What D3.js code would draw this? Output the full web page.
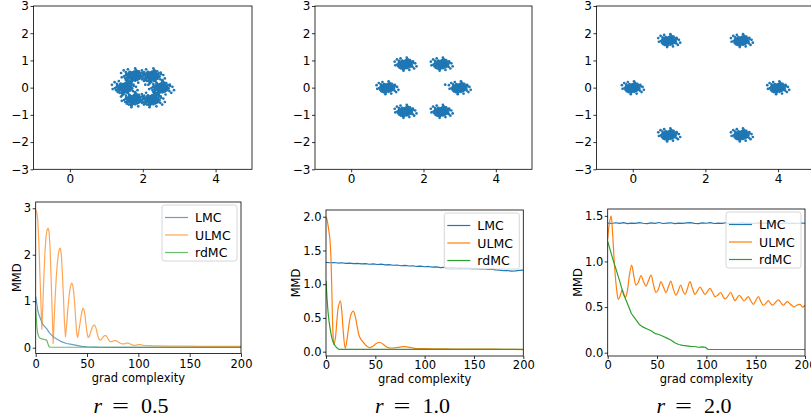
<!DOCTYPE html>
<html><head><meta charset="utf-8">
<script src="https://cdn.jsdelivr.net/npm/d3@7"></script>
<style>
body{margin:0;background:#fff}
svg{display:block}
</style>
</head><body>
<svg id="chart" width="811" height="419"></svg>
<script>
// ---------------- DATA ----------------
const radii = ["0.5", "1.0", "2.0"];
// mode centres of the target mixture in each panel
const clusterCenters = [
  [[2.5,0],[2.25,0.433],[1.75,0.433],[1.5,0],[1.75,-0.433],[2.25,-0.433]],
  [[3,0],[2.5,0.866],[1.5,0.866],[1,0],[1.5,-0.866],[2.5,-0.866]],
  [[4,0],[3,1.732],[1,1.732],[0,0],[1,-1.732],[3,-1.732]]
];
const clusterSpread = [0.105, 0.09, 0.09];
// typed sample offsets (in spread units) of the points round each mode
const blobOffsets = [
[0.1,0.3],[-0.4,0.2],[0.6,-0.1],[-0.2,-0.7],[0.9,0.4],[-1.1,-0.3],[0.3,1.0],[-0.6,0.8],[1.3,-0.5],[-0.8,-1.0],
[0.0,-0.2],[0.5,0.6],[-1.4,0.5],[1.0,1.1],[-0.3,-1.3],[0.7,-0.9],[-0.9,0.1],[0.2,-0.4],[1.6,0.2],[-1.7,-0.6],
[0.4,0.0],[-0.1,0.6],[0.8,-0.4],[-0.5,-0.4],[1.2,0.7],[-1.2,0.9],[0.1,1.5],[-0.2,-1.6],[0.6,1.3],[-0.7,-1.4],
[2.0,-0.3],[-2.1,0.2],[0.3,-1.1],[-0.4,1.2],[1.5,-1.0],[-1.5,-1.1],[0.9,-1.4],[-1.0,1.4],[1.8,0.9],[-1.9,0.7],
[0.2,0.2],[-0.3,0.0],[0.0,0.9],[0.5,-0.6],[-0.6,-0.1],[1.1,0.0],[-1.1,0.4],[0.7,0.3],[-0.8,0.5],[0.4,-1.7],
[2.4,0.6],[-2.5,-0.2],[0.6,2.0],[-0.5,-2.1],[1.4,1.6],[-1.3,-1.8],[2.2,-1.2],[-2.0,1.3],[0.1,-0.9],[-0.1,0.3],
[1.0,-0.2],[-1.0,-0.7],[0.3,0.7],[-0.4,-0.9],[1.7,-0.6],[-1.6,0.0],[0.8,0.9],[-0.9,-0.5],[0.0,-1.2],[0.2,1.2],
[3.0,0.3],[-3.1,-0.5],[0.4,2.6],[-0.6,-2.7],[2.7,-1.8],[-2.6,1.9],[1.3,0.3],[-1.3,-0.2],[0.5,0.4],[-0.5,0.5],
[1.9,-0.1],[-1.8,-1.5],[1.1,-1.2],[-1.2,1.1],[0.9,1.7],[-0.8,-1.9],[2.3,1.1],[-2.2,-0.9],[0.7,-0.2],[-0.7,0.2],
[3.4,-0.9],[-3.3,1.0],[1.2,-2.4],[-1.5,2.3],[0.0,0.0],[0.3,-0.3],[-0.2,0.8],[0.6,0.1],[-0.3,-0.5],[1.5,0.5]
];
const scatterExtras = [[[2.07,0.11]], [[2.6,0.11]], []];
const scatterXDomain = [-1, 5];
const scatterYDomain = [-3, 3];
const scatterXTicks = [0, 2, 4];
const scatterYTicks = [-3, -2, -1, 0, 1, 2, 3];

const seriesNames = ["LMC", "ULMC", "rdMC"];
const seriesColors = ["#1f77b4", "#ff7f0e", "#2ca02c"];
const mmdXDomain = [0, 200];
const mmdXTicks = [0, 50, 100, 150, 200];
const mmdYDomains = [[-0.125, 3.135], [-0.064, 2.1], [-0.036, 1.575]];
const mmdYTicks = [[0, 1, 2, 3], [0, 0.5, 1, 1.5, 2], [0, 0.5, 1, 1.5]];

// r = 0.5
const lmc05 = [[0,1.1],[1,0.95],[2,0.8],[3,0.72],[5,0.6],[7,0.5],[9,0.45],[11,0.4],[13,0.33],[15,0.28],[18,0.22],[21,0.18],[25,0.13],[30,0.09],[35,0.07],[40,0.05],[45,0.03],[50,0.02],[60,0.012],[80,0.008],[120,0.006],[160,0.005],[200,0.005]];
const ulmc05 = [[0,2.96],[1,2.92],[2,2.75],[3,2.3],[4,1.65],[5,1.0],[6,0.4],[7,0.95],[8,1.55],[9,2.05],[10,2.38],[11,2.53],[12,2.57],[13,2.5],[14,2.15],[15,1.5],[16,0.8],[17,0.09],[18,0.6],[19,1.1],[20,1.5],[21,1.8],[22,2.0],[23,2.12],[24,2.14],[25,2.0],[26,1.6],[27,1.1],[28,0.55],[29,0.24],[30,0.45],[31,0.75],[32,1.0],[33,1.2],[34,1.33],[35,1.39],[36,1.36],[37,1.2],[38,0.95],[39,0.6],[40,0.3],[41,0.22],[42,0.35],[43,0.5],[44,0.65],[45,0.78],[46,0.85],[47,0.82],[48,0.7],[49,0.5],[50,0.32],[51,0.22],[52,0.23],[53,0.3],[54,0.37],[55,0.43],[56,0.47],[57,0.49],[58,0.47],[59,0.4],[60,0.3],[61,0.22],[62,0.17],[63,0.16],[64,0.18],[65,0.21],[66,0.24],[67,0.26],[68,0.26],[69,0.25],[70,0.21],[71,0.17],[72,0.14],[73,0.13],[74,0.13],[75,0.14],[76,0.15],[78,0.15],[80,0.13],[82,0.1],[84,0.08],[86,0.08],[88,0.1],[90,0.1],[92,0.08],[94,0.06],[96,0.05],[98,0.055],[100,0.065],[102,0.065],[104,0.055],[106,0.05],[110,0.045],[115,0.04],[120,0.04],[130,0.035],[140,0.035],[150,0.032],[160,0.03],[170,0.03],[180,0.028],[190,0.028],[200,0.027]];
const rdmc05 = [[0,0.85],[1,0.48],[2,0.3],[3,0.24],[4,0.21],[6,0.19],[8,0.18],[10,0.17],[11,0.15],[12,0.08],[13,0.02],[14,0.01],[200,0.01]];

// r = 1.0  (LMC sampled every 4 gradient evaluations)
const lmc10 = [1.325,1.318,1.322,1.314,1.318,1.309,1.313,1.305,1.31,1.302,1.306,1.296,1.301,1.292,1.297,1.286,1.29,1.281,1.285,1.274,1.279,1.27,1.274,1.263,1.268,1.259,1.263,1.252,1.256,1.247,1.251,1.242,1.247,1.238,1.243,1.234,1.239,1.23,1.235,1.226,1.229,1.219,1.223,1.213,1.208,1.2,1.203,1.193,1.197,1.204,1.208];
const ulmc10 = [[0,2.0],[1,1.96],[2,1.88],[3,1.78],[4,1.66],[5,1.4],[6,0.85],[7,0.3],[8,0.1],[9.5,0.2],[11,0.45],[12.5,0.66],[14.5,0.755],[16,0.6],[17.5,0.3],[19.5,0.05],[21.5,0.2],[23.5,0.42],[25.5,0.56],[27.7,0.6],[30,0.5],[32,0.34],[34,0.22],[36.5,0.16],[39,0.12],[41.5,0.08],[44.3,0.06],[47.5,0.08],[51,0.12],[54.4,0.14],[58,0.11],[61.5,0.07],[65,0.055],[70,0.058],[75,0.068],[80,0.075],[85,0.065],[90,0.05],[100,0.045],[115,0.042],[130,0.04],[150,0.04],[170,0.038],[185,0.035],[200,0.03]];
const rdmc10 = [[0,1.05],[1,0.8],[2,0.6],[3,0.46],[4,0.36],[5,0.27],[6,0.2],[7,0.15],[8,0.12],[9,0.095],[10,0.075],[11,0.058],[12,0.045],[13,0.035],[200,0.035]];

// r = 2.0
const lmc20 = [1.421,1.416,1.424,1.418,1.425,1.415,1.421,1.417,1.426,1.419,1.414,1.422,1.418,1.427,1.416,1.42,1.424,1.415,1.421,1.417,1.423,1.426,1.418,1.414,1.422,1.419,1.425,1.416,1.421,1.418,1.424,1.415,1.421,1.419,1.426,1.417,1.42,1.414,1.423,1.418,1.421,1.416,1.425,1.419,1.415,1.422,1.418,1.421,1.416,1.42,1.419];
const ulmc20 = [[0,1.25],[1.5,1.4],[3.4,1.5],[5,1.3],[7,0.94],[9,0.7],[10.8,0.585],[12.5,0.62],[14.8,0.69],[16.5,0.64],[18.2,0.61],[20,0.68],[22,0.85],[24.3,0.96],[26.5,0.84],[28.7,0.74],[31,0.77],[33.8,0.845],[36.3,0.78],[38.8,0.73],[41,0.78],[43.9,0.85],[46.5,0.74],[49,0.66],[51.5,0.7],[54,0.78],[56.5,0.72],[59.1,0.66],[61.5,0.72],[63.9,0.785],[66.5,0.7],[69.2,0.63],[71.5,0.68],[74,0.74],[76.2,0.68],[78.4,0.64],[81,0.71],[83.4,0.78],[86,0.7],[88.5,0.64],[91,0.68],[93.6,0.72],[96,0.68],[98.6,0.64],[101,0.67],[103.7,0.705],[106.3,0.66],[108.8,0.615],[111.5,0.63],[114.5,0.66],[116.7,0.62],[118.9,0.59],[121.8,0.62],[124.7,0.66],[127,0.61],[129,0.57],[131.2,0.6],[133.4,0.63],[135.8,0.6],[138.2,0.567],[140.3,0.59],[142.5,0.615],[145,0.57],[147.6,0.53],[150,0.57],[152.7,0.615],[155.2,0.56],[157.7,0.52],[160.2,0.54],[162.8,0.57],[165,0.54],[167.3,0.52],[170,0.55],[173,0.58],[175.5,0.55],[178,0.52],[180,0.54],[182,0.56],[184.3,0.54],[186.5,0.52],[189,0.5],[191.5,0.52],[195,0.53],[197.5,0.5],[200,0.52]];
const rdmc20 = [[0,1.22],[4,1.07],[8,0.93],[12,0.79],[16,0.64],[20,0.54],[24,0.43],[28,0.37],[32,0.31],[36,0.28],[40,0.26],[44,0.24],[48,0.21],[52,0.2],[56,0.18],[60,0.16],[64,0.14],[68,0.11],[72,0.09],[76,0.08],[80,0.075],[84,0.07],[88,0.068],[92,0.06],[96,0.065],[99,0.06],[101,0.04],[103,0.035],[200,0.035]];
const lmcStep = 4;

// ---------------- LAYOUT ----------------
const FONT = "'DejaVu Sans', sans-serif";
const topFrames = [{l:33.5,r:252,t:6,b:169.3},{l:315,r:532,t:6,b:169.3},{l:596.4,r:814.4,t:6,b:169.3}];
const botFrames = [{l:35.7,r:241,t:202,b:353.5},{l:326,r:523.3,t:210,b:356},{l:607.7,r:805,t:209,b:356}];
const captionCenters = [131, 412.5, 694];
const lineAlpha = [0.7, 1, 1];

const svg = d3.select("#chart");
svg.append("rect").attr("width",811).attr("height",419).attr("fill","#fff");

function styleAxis(g, fs){
  g.select(".domain").remove();
  g.selectAll(".tick line").attr("stroke","#000").attr("stroke-width",0.8);
  g.selectAll(".tick text").attr("font-size",fs).attr("font-family",FONT).attr("fill","#000");
}
function frame(f){
  svg.append("rect").attr("x",f.l).attr("y",f.t).attr("width",f.r-f.l).attr("height",f.b-f.t)
    .attr("fill","none").attr("stroke","#000").attr("stroke-width",0.8);
}

const toPairs = arr => arr.map((v,i)=>[i*lmcStep, v]);
const panelSeries = [
  [lmc05, ulmc05, rdmc05],
  [toPairs(lmc10), ulmc10, rdmc10],
  [toPairs(lmc20), ulmc20, rdmc20]
];

for (let p=0; p<3; p++){
  // ---- scatter ----
  const tf = topFrames[p];
  const sx = d3.scaleLinear().domain(scatterXDomain).range([tf.l, tf.r]);
  const sy = d3.scaleLinear().domain(scatterYDomain).range([tf.b, tf.t]);
  const pts = [];
  clusterCenters[p].forEach(c => blobOffsets.forEach(o => pts.push([c[0]+clusterSpread[p]*o[0], c[1]+clusterSpread[p]*o[1]])));
  scatterExtras[p].forEach(e => pts.push(e));
  svg.append("g").selectAll("circle").data(pts).join("circle")
    .attr("cx", d=>sx(d[0])).attr("cy", d=>sy(d[1])).attr("r",1.35).attr("fill","#1f77b4");
  frame(tf);
  const gx = svg.append("g").attr("transform",`translate(0,${tf.b})`)
    .call(d3.axisBottom(sx).tickValues(scatterXTicks).tickSize(3).tickPadding(2).tickFormat(d3.format("d")));
  styleAxis(gx, 12);
  const gy = svg.append("g").attr("transform",`translate(${tf.l},0)`)
    .call(d3.axisLeft(sy).tickValues(scatterYTicks).tickSize(3).tickPadding(1.5).tickFormat(d3.format("d")));
  styleAxis(gy, 12);

  // ---- MMD curves ----
  const bf = botFrames[p];
  const x = d3.scaleLinear().domain(mmdXDomain).range([bf.l, bf.r]);
  const y = d3.scaleLinear().domain(mmdYDomains[p]).range([bf.b, bf.t]);
  const clipId = "clip"+p;
  svg.append("clipPath").attr("id",clipId).append("rect")
    .attr("x",bf.l).attr("y",bf.t).attr("width",bf.r-bf.l).attr("height",bf.b-bf.t);
  const lg = svg.append("g").attr("clip-path",`url(#${clipId})`);
  panelSeries[p].forEach((data, s) => {
    const curve = (s===1 && p>0) ? d3.curveCatmullRom.alpha(0.5) : d3.curveLinear;
    const line = d3.line().x(d=>x(d[0])).y(d=>y(d[1])).curve(curve);
    lg.append("path").attr("d", line(data)).attr("fill","none")
      .attr("stroke", seriesColors[s]).attr("stroke-width",1.2)
      .attr("stroke-opacity", lineAlpha[p]).attr("stroke-linejoin","round");
  });
  frame(bf);
  const tighter = p > 0;
  const bx = svg.append("g").attr("transform",`translate(0,${bf.b})`)
    .call(d3.axisBottom(x).tickValues(mmdXTicks).tickSize(tighter ? 3 : 3.5).tickPadding(tighter ? 1.5 : 2.5).tickFormat(d3.format("d")));
  styleAxis(bx, 11.5);
  const by = svg.append("g").attr("transform",`translate(${bf.l},0)`)
    .call(d3.axisLeft(y).tickValues(mmdYTicks[p]).tickSize(3).tickPadding(1.5)
      .tickFormat(p===0 ? d3.format("d") : d3.format(".1f")));
  styleAxis(by, 11.5);

  // axis labels
  let minLeft = Infinity;
  by.selectAll(".tick text").each(function(){ const b=this.getBoundingClientRect(); minLeft=Math.min(minLeft,b.left); });
  svg.append("text").attr("transform",`translate(${minLeft-3},${(bf.t+bf.b)/2}) rotate(-90)`)
    .attr("text-anchor","middle").attr("font-family",FONT).attr("font-size",11.5).text("MMD");
  svg.append("text").attr("x",(bf.l+bf.r)/2).attr("y",tighter ? 383 : 381.5)
    .attr("text-anchor","middle").attr("font-family",FONT).attr("font-size",11.5).text("grad complexity");

  // legend
  const lw = 75, lh = 56;
  const lx = bf.r - 4 - lw, ly = bf.t + 3;
  const leg = svg.append("g");
  leg.append("rect").attr("x",lx).attr("y",ly).attr("width",lw).attr("height",lh).attr("rx",2.5)
    .attr("fill","#fff").attr("fill-opacity",0.8).attr("stroke","#ccc").attr("stroke-width",0.8);
  seriesNames.forEach((n,i) => {
    const yy = ly + 12.5 + i*17.5;
    leg.append("line").attr("x1",lx+3).attr("x2",lx+26).attr("y1",yy).attr("y2",yy)
      .attr("stroke",seriesColors[i]).attr("stroke-width",1.2).attr("stroke-opacity",lineAlpha[p]);
    leg.append("text").attr("x",lx+33).attr("y",yy+4.5).attr("font-family",FONT).attr("font-size",12.5).text(n);
  });

  // caption  r = value
  const cc = captionCenters[p];
  const cap = svg.append("g").attr("font-family","'Liberation Serif', 'DejaVu Serif', serif").attr("font-size",22);
  cap.append("text").attr("x",cc-37.5).attr("y",413).attr("font-style","italic").text("r");
  cap.append("text").attr("x",cc-19).attr("y",413).attr("textLength",17).attr("lengthAdjust","spacingAndGlyphs").text("=");
  cap.append("text").attr("x",cc+37.5).attr("y",413).attr("text-anchor","end").text(radii[p]);
}
</script>
</body></html>
